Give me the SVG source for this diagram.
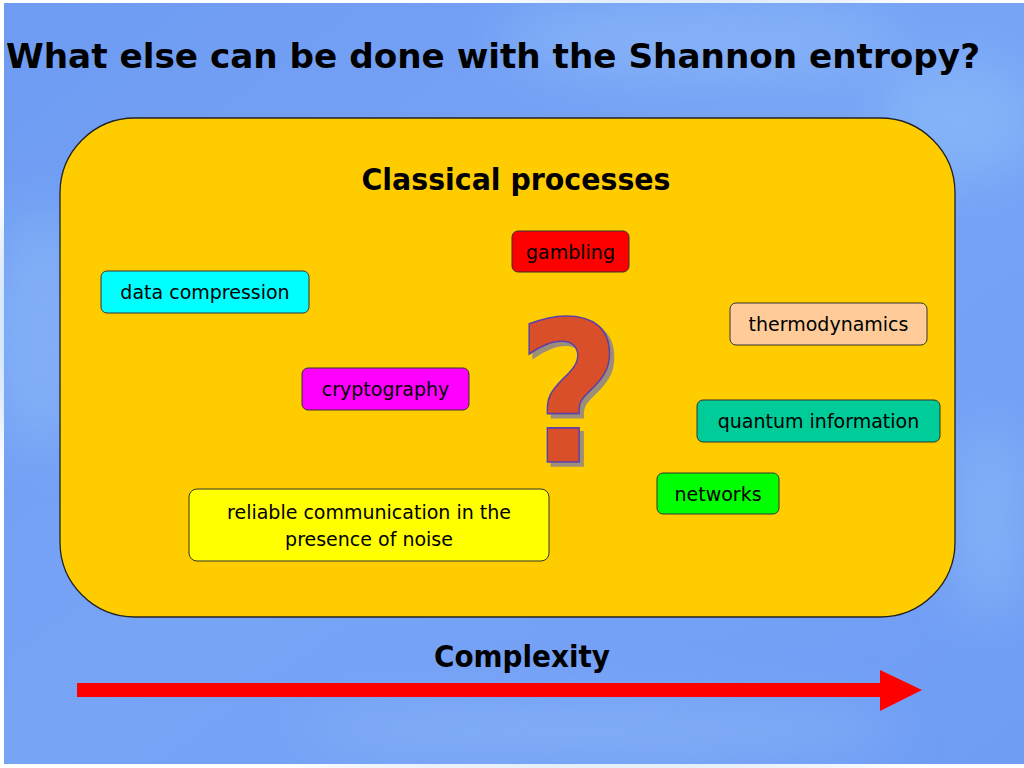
<svg xmlns="http://www.w3.org/2000/svg" width="1024" height="768" viewBox="0 0 1024 768">
<defs>
<linearGradient id="bg" x1="0" y1="0" x2="1" y2="1">
<stop offset="0" stop-color="#6E9CF2"/>
<stop offset="0.5" stop-color="#78A4F6"/>
<stop offset="1" stop-color="#6F9DF4"/>
</linearGradient>
<filter id="blur" x="-50%" y="-50%" width="200%" height="200%"><feGaussianBlur stdDeviation="25"/></filter>
<filter id="shadow" x="-20%" y="-20%" width="140%" height="140%">
<feOffset in="SourceAlpha" dx="4" dy="4" result="o"/>
<feFlood flood-color="#9C8E78"/>
<feComposite in2="o" operator="in" result="s"/>
<feMerge><feMergeNode in="s"/><feMergeNode in="SourceGraphic"/></feMerge>
</filter>
<style>
.title{font-family:"DejaVu Sans","Liberation Sans",sans-serif;font-weight:bold;fill:#000}
.lbl{font-family:"DejaVu Sans","Liberation Sans",sans-serif;font-size:19px;fill:#000;text-anchor:middle}
.box{stroke:#333;stroke-width:1}
</style>
</defs>
<rect x="0" y="0" width="1024" height="768" fill="#fff"/>
<rect x="4" y="3" width="1020" height="761" fill="url(#bg)"/>
<g filter="url(#blur)" opacity="0.55">
<ellipse cx="700" cy="40" rx="200" ry="40" fill="#92BEFA"/>
<ellipse cx="960" cy="120" rx="80" ry="60" fill="#8FC0FA"/>
<ellipse cx="40" cy="330" rx="50" ry="120" fill="#8EBBF8"/>
<ellipse cx="600" cy="730" rx="300" ry="30" fill="#8DB7F8"/>
<ellipse cx="990" cy="520" rx="40" ry="100" fill="#8EBBF8"/>
</g>
<text class="title" x="6" y="68" font-size="34" textLength="974" lengthAdjust="spacingAndGlyphs">What else can be done with the Shannon entropy?</text>
<g id="classical">
<rect x="60" y="118" width="895" height="499" rx="75" ry="75" fill="#FFCC00" stroke="#222" stroke-width="1.3"/>
<text class="title" x="516" y="190" font-size="30" text-anchor="middle" textLength="309" lengthAdjust="spacingAndGlyphs">Classical processes</text>
</g>
<g id="gambling">
<rect class="box" x="512" y="231" width="117" height="41" rx="6" fill="#FF0000"/>
<text class="lbl" x="570.5" y="259">gambling</text>
</g>
<g id="data-compression">
<rect class="box" x="101" y="271" width="208" height="42" rx="6" fill="#00FFFF"/>
<text class="lbl" x="205" y="299">data compression</text>
</g>
<g id="thermodynamics">
<rect class="box" x="730" y="303" width="197" height="42" rx="6" fill="#FFCC99"/>
<text class="lbl" x="828.5" y="331">thermodynamics</text>
</g>
<g id="cryptography">
<rect class="box" x="302" y="368" width="167" height="42" rx="6" fill="#FF00FF"/>
<text class="lbl" x="385.5" y="396">cryptography</text>
</g>
<g id="quantum-information">
<rect class="box" x="697" y="400" width="243" height="42" rx="6" fill="#00CC99"/>
<text class="lbl" x="818.5" y="428">quantum information</text>
</g>
<g id="networks">
<rect class="box" x="657" y="473" width="122" height="41" rx="6" fill="#00FF00"/>
<text class="lbl" x="718" y="501">networks</text>
</g>
<g id="reliable-communication">
<rect class="box" x="189" y="489" width="360" height="72" rx="8" fill="#FFFF00"/>
<text class="lbl" x="369" y="519">reliable communication in the</text>
<text class="lbl" x="369" y="546">presence of noise</text>
</g>
<g id="question-mark" filter="url(#shadow)">
<text transform="translate(569,462) scale(0.92,1)" font-family="DejaVu Sans, Liberation Sans, sans-serif" font-weight="bold" font-size="196" text-anchor="middle" fill="#D9502A" stroke="#5A3FA8" stroke-width="1.6">?</text>
</g>
<g id="connectors">
<polygon points="77,683 880,683 880,670 922,690 880,711 880,697 77,697" fill="#FF0000"/>
</g>
<text class="title" x="522" y="667" font-size="30" text-anchor="middle" textLength="176" lengthAdjust="spacingAndGlyphs">Complexity</text>
</svg>
